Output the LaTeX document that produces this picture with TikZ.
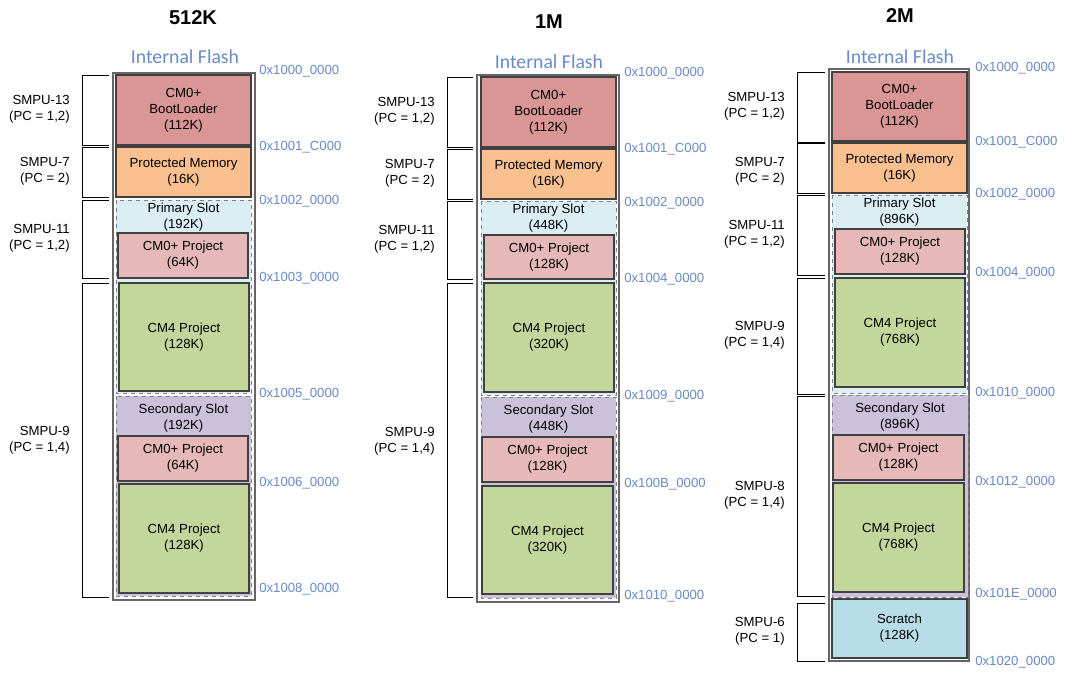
\documentclass[tikz,border=0pt]{standalone}
\usepackage{fontspec}
\setmainfont{Liberation Sans}
\newfontfamily\flashfont{Carlito}
\usepackage{xcolor}

\definecolor{bootred}{RGB}{217,150,148}
\definecolor{protorange}{RGB}{250,192,144}
\definecolor{primblue}{RGB}{218,238,243}
\definecolor{cmzero}{RGB}{230,185,184}
\definecolor{cmfour}{RGB}{195,214,155}
\definecolor{seclilac}{RGB}{204,193,218}
\definecolor{scratchblue}{RGB}{183,221,232}
\definecolor{addrblue}{RGB}{105,138,200}
\definecolor{boxline}{RGB}{64,64,64}

\begin{document}
\begin{tikzpicture}[x=0.75pt, y=-0.75pt,
        blk/.style={draw=boxline, line width=0.9pt},
        slot/.style={draw=gray, dashed, line width=0.6pt},
        flash/.style={draw=black!60, line width=1.1pt},
        brak/.style={draw=black, line width=0.6pt},
        txt/.style={align=center, inner sep=0pt, font=\fontsize{9.9}{12}\selectfont},
        slottxt/.style={txt, anchor=north},
        smpu/.style={align=right, anchor=east, inner sep=0pt, font=\fontsize{9.9}{12}\selectfont},
        addr/.style={anchor=west, inner sep=0pt, text=addrblue, font=\fontsize{9.9}{12}\selectfont},
        ttl/.style={font=\bfseries\fontsize{15}{18}\selectfont},
        iflash/.style={text=addrblue, font=\flashfont\fontsize{14.8}{16}\selectfont}]
            \useasboundingbox (0,0) rectangle (1084,678);

            % 512K
            \node[ttl] (ttlA) at (193,18) {512K};
            \node[iflash] (ifA) at (185,57) {Internal Flash};
            \draw[flash] (113,73) rectangle (255,600);

            \draw[blk, fill=bootred] (116,75) rectangle (251,145) node[txt, midway] (bootA) {CM0+\\BootLoader\\(112K)};
            \draw[blk, fill=protorange] (116,147) rectangle (251,197) node[txt, midway] (protA) {Protected Memory\\(16K)};
            \draw[slot, fill=primblue] (116,200) rectangle (251,393);
            \node[slottxt] (primA) at (183.5,203) {Primary Slot\\(192K)};
            \draw[blk, fill=cmzero] (118,233) rectangle (248,278) node[txt, midway] (cmzA) {CM0+ Project\\(64K)};
            \draw[blk, fill=cmfour] (119,283) rectangle (249,391) node[txt, midway] (cmfA) {CM4 Project\\(128K)};
            \draw[slot, fill=seclilac] (116,396) rectangle (251,596);
            \node[slottxt] (secA) at (183.5,404) {Secondary Slot\\(192K)};
            \draw[blk, fill=cmzero] (118,436) rectangle (248,481) node[txt, midway] (cmzB) {CM0+ Project\\(64K)};
            \draw[blk, fill=cmfour] (119,484) rectangle (249,593) node[txt, midway] (cmfB) {CM4 Project\\(128K)};

            \draw[brak] (109,75) -- (82,75) -- (82,145) -- (109,145);
            \draw[brak] (109,147) -- (82,147) -- (82,197) -- (109,197);
            \draw[brak] (109,200) -- (82,200) -- (82,278) -- (109,278);
            \draw[brak] (109,283) -- (82,283) -- (82,597) -- (109,597);

            \node[smpu] (smpuA1) at (70,109) {SMPU-13\\(PC = 1,2)};
            \node[smpu] (smpuA2) at (70,171) {SMPU-7\\(PC = 2)};
            \node[smpu] (smpuA3) at (70,238) {SMPU-11\\(PC = 1,2)};
            \node[smpu] (smpuA4) at (70,440) {SMPU-9\\(PC = 1,4)};

            \node[addr] (adA1) at (259,71) {0x1000\_0000};
            \node[addr] (adA2) at (259,147) {0x1001\_C000};
            \node[addr] (adA3) at (259,201) {0x1002\_0000};
            \node[addr] (adA4) at (259,278) {0x1003\_0000};
            \node[addr] (adA5) at (259,394) {0x1005\_0000};
            \node[addr] (adA6) at (259,483) {0x1006\_0000};
            \node[addr] (adA7) at (259,589) {0x1008\_0000};


            % 1M
            \node[ttl] (ttlB) at (549,22) {1M};
            \node[iflash] (ifB) at (549,62) {Internal Flash};
            \draw[flash] (477,75) rectangle (619,602);

            \draw[blk, fill=bootred] (481,77) rectangle (616,147) node[txt, midway] (bootB) {CM0+\\BootLoader\\(112K)};
            \draw[blk, fill=protorange] (481,149) rectangle (616,199) node[txt, midway] (protB) {Protected Memory\\(16K)};
            \draw[slot, fill=primblue] (481,201) rectangle (616,395);
            \node[slottxt] (primB) at (548.5,204) {Primary Slot\\(448K)};
            \draw[blk, fill=cmzero] (484,235) rectangle (614,279) node[txt, midway] (cmzC) {CM0+ Project\\(128K)};
            \draw[blk, fill=cmfour] (484,283) rectangle (614,392) node[txt, midway] (cmfC) {CM4 Project\\(320K)};
            \draw[slot, fill=seclilac] (481,397) rectangle (616,598);
            \node[slottxt] (secB) at (548.5,405) {Secondary Slot\\(448K)};
            \draw[blk, fill=cmzero] (482,437) rectangle (613,482) node[txt, midway] (cmzD) {CM0+ Project\\(128K)};
            \draw[blk, fill=cmfour] (482,486) rectangle (613,594) node[txt, midway] (cmfD) {CM4 Project\\(320K)};

            \draw[brak] (473,77) -- (447,77) -- (447,147) -- (473,147);
            \draw[brak] (473,149) -- (447,149) -- (447,199) -- (473,199);
            \draw[brak] (473,201) -- (447,201) -- (447,279) -- (473,279);
            \draw[brak] (473,283) -- (447,283) -- (447,597) -- (473,597);

            \node[smpu] (smpuB1) at (435,111) {SMPU-13\\(PC = 1,2)};
            \node[smpu] (smpuB2) at (435,173) {SMPU-7\\(PC = 2)};
            \node[smpu] (smpuB3) at (435,239) {SMPU-11\\(PC = 1,2)};
            \node[smpu] (smpuB4) at (435,441) {SMPU-9\\(PC = 1,4)};

            \node[addr] (adB1) at (624,73) {0x1000\_0000};
            \node[addr] (adB2) at (624,149) {0x1001\_C000};
            \node[addr] (adB3) at (624,203) {0x1002\_0000};
            \node[addr] (adB4) at (624,279) {0x1004\_0000};
            \node[addr] (adB5) at (624,396) {0x1009\_0000};
            \node[addr] (adB6) at (624,484) {0x100B\_0000};
            \node[addr] (adB7) at (624,596) {0x1010\_0000};


            % 2M
            \node[ttl] (ttlC) at (900,16) {2M};
            \node[iflash] (ifC) at (900,57) {Internal Flash};
            \draw[flash] (829,69) rectangle (969,661);

            \draw[blk, fill=bootred] (832,72) rectangle (967,141) node[txt, midway] (bootC) {CM0+\\BootLoader\\(112K)};
            \draw[blk, fill=protorange] (832,143) rectangle (967,193) node[txt, midway] (protC) {Protected Memory\\(16K)};
            \draw[slot, fill=primblue] (832,195) rectangle (967,393);
            \node[slottxt] (primC) at (899.5,198) {Primary Slot\\(896K)};
            \draw[blk, fill=cmzero] (835,229) rectangle (965,274) node[txt, midway] (cmzE) {CM0+ Project\\(128K)};
            \draw[blk, fill=cmfour] (835,278) rectangle (965,387) node[txt, midway] (cmfE) {CM4 Project\\(768K)};
            \draw[slot, fill=seclilac] (832,395) rectangle (968,597);
            \node[slottxt] (secC) at (900,403) {Secondary Slot\\(896K)};
            \draw[blk, fill=cmzero] (833,435) rectangle (964,480) node[txt, midway] (cmzF) {CM0+ Project\\(128K)};
            \draw[blk, fill=cmfour] (833,483) rectangle (964,592) node[txt, midway] (cmfF) {CM4 Project\\(768K)};
            \draw[blk, fill=scratchblue] (832,599) rectangle (967,658) node[txt, midway] (scrC) {Scratch\\(128K)};

            \draw[brak] (825,72) -- (797,72) -- (797,142) -- (825,142);
            \draw[brak] (825,143) -- (797,143) -- (797,193) -- (825,193);
            \draw[brak] (825,195) -- (797,195) -- (797,275) -- (825,275);
            \draw[brak] (825,278) -- (797,278) -- (797,394) -- (825,394);
            \draw[brak] (825,396) -- (797,396) -- (797,596) -- (825,596);
            \draw[brak] (825,603) -- (797,603) -- (797,661) -- (825,661);

            \node[smpu] (smpuC1) at (785,106) {SMPU-13\\(PC = 1,2)};
            \node[smpu] (smpuC2) at (785,171) {SMPU-7\\(PC = 2)};
            \node[smpu] (smpuC3) at (785,234) {SMPU-11\\(PC = 1,2)};
            \node[smpu] (smpuC4) at (785,335) {SMPU-9\\(PC = 1,4)};
            \node[smpu] (smpuC5) at (785,495) {SMPU-8\\(PC = 1,4)};
            \node[smpu] (smpuC6) at (785,631) {SMPU-6\\(PC = 1)};

            \node[addr] (adC1) at (975,68) {0x1000\_0000};
            \node[addr] (adC2) at (975,142) {0x1001\_C000};
            \node[addr] (adC3) at (975,194) {0x1002\_0000};
            \node[addr] (adC4) at (975,273) {0x1004\_0000};
            \node[addr] (adC5) at (975,393) {0x1010\_0000};
            \node[addr] (adC6) at (975,482) {0x1012\_0000};
            \node[addr] (adC7) at (975,594) {0x101E\_0000};
            \node[addr] (adC8) at (975,662) {0x1020\_0000};
        \end{tikzpicture}
\end{document}
